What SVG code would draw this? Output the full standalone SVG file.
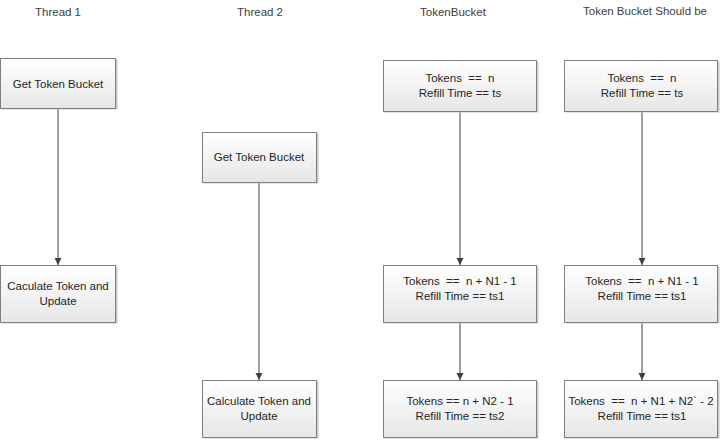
<svg xmlns="http://www.w3.org/2000/svg" width="720" height="440" viewBox="0 0 720 440" xml:space="preserve">
<defs>
<linearGradient id="g" x1="0" y1="0" x2="0" y2="1">
<stop offset="0" stop-color="#ffffff"/>
<stop offset="1" stop-color="#e6e6e6"/>
</linearGradient>
<marker id="arr" markerWidth="8" markerHeight="8" refX="7" refY="4" orient="auto" markerUnits="userSpaceOnUse">
<path d="M0,0.5 L7,4 L0,7.5 Z" fill="#404040"/>
</marker>
</defs>
<style>
text{font-family:"Liberation Sans",Arial,sans-serif;font-size:11.5px;fill:#262626;text-anchor:middle;white-space:pre}
.title{fill:#404040}
.box{fill:url(#g);stroke:#808080;stroke-width:1}
.sh{fill:#c8c8c8}
.c{stroke:#404040;stroke-width:1;fill:none;marker-end:url(#arr)}
</style>
<rect width="720" height="440" fill="#ffffff"/>
<text class="title" x="58" y="16">Thread 1</text>
<text class="title" x="260" y="16">Thread 2</text>
<text class="title" x="453" y="16">TokenBucket</text>
<text class="title" x="645" y="15">Token Bucket Should be</text>
<g id="connectors">
<line class="c" x1="58" y1="108" x2="58" y2="265"/>
<line class="c" x1="259" y1="182" x2="259" y2="380"/>
<line class="c" x1="460" y1="111" x2="460" y2="265"/>
<line class="c" x1="460" y1="323" x2="460" y2="380"/>
<line class="c" x1="642" y1="111" x2="642" y2="265"/>
<line class="c" x1="642" y1="323" x2="642" y2="380"/>
</g>
<g id="t1a">
<rect class="sh" x="1.5" y="59.5" width="116" height="50"/>
<rect class="box" x="0.5" y="58.5" width="115" height="50"/>
<text x="58" y="88">Get Token Bucket</text>
</g>
<g id="t1b">
<rect class="sh" x="1.5" y="266.5" width="116" height="57"/>
<rect class="box" x="0.5" y="265.5" width="115" height="57"/>
<text x="58" y="290">Caculate Token and</text>
<text x="58" y="305">Update</text>
</g>
<g id="t2a">
<rect class="sh" x="203.5" y="133.5" width="115" height="50"/>
<rect class="box" x="202.5" y="132.5" width="114" height="50"/>
<text x="259" y="161">Get Token Bucket</text>
</g>
<g id="t2b">
<rect class="sh" x="203.5" y="381.5" width="115" height="57"/>
<rect class="box" x="202.5" y="380.5" width="114" height="57"/>
<text x="259" y="405">Calculate Token and</text>
<text x="259" y="420">Update</text>
</g>
<g id="tb1">
<rect class="sh" x="384.5" y="61.5" width="154" height="51"/>
<rect class="box" x="383.5" y="60.5" width="153" height="51"/>
<text x="460" y="82">Tokens  ==  n</text>
<text x="460" y="97">Refill Time == ts</text>
</g>
<g id="tb2">
<rect class="sh" x="384.5" y="266.5" width="154" height="57"/>
<rect class="box" x="383.5" y="265.5" width="153" height="57"/>
<text x="460" y="285">Tokens  ==  n + N1 - 1</text>
<text x="460" y="300">Refill Time == ts1</text>
</g>
<g id="tb3">
<rect class="sh" x="384.5" y="381.5" width="154" height="57"/>
<rect class="box" x="383.5" y="380.5" width="153" height="57"/>
<text x="460" y="405">Tokens == n + N2 - 1</text>
<text x="460" y="420">Refill Time == ts2</text>
</g>
<g id="sb1">
<rect class="sh" x="565.5" y="61.5" width="154" height="51"/>
<rect class="box" x="564.5" y="60.5" width="153" height="51"/>
<text x="642" y="82">Tokens  ==  n</text>
<text x="642" y="97">Refill Time == ts</text>
</g>
<g id="sb2">
<rect class="sh" x="565.5" y="266.5" width="154" height="57"/>
<rect class="box" x="564.5" y="265.5" width="153" height="57"/>
<text x="642" y="285">Tokens  ==  n + N1 - 1</text>
<text x="642" y="300">Refill Time == ts1</text>
</g>
<g id="sb3">
<rect class="sh" x="565.5" y="381.5" width="154" height="57"/>
<rect class="box" x="564.5" y="380.5" width="153" height="57"/>
<text x="641" y="405">Tokens  ==  n + N1 + N2` - 2</text>
<text x="642" y="420">Refill Time == ts1</text>
</g>
</svg>
